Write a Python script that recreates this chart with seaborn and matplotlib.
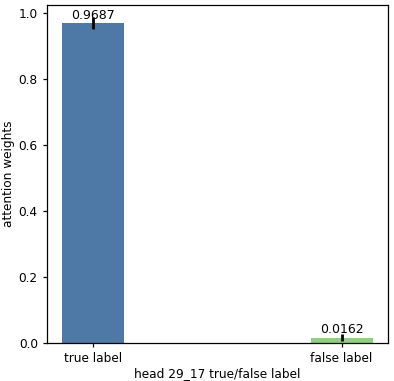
from matplotlib import pyplot as plt
import pandas as pd
import seaborn as sns

# values
labels = ["true label", "false label"]
weights = [0.9687, 0.0162]
errors = [0.018, 0.011]
colors = ["#4e79a7", "#8cd17d"]

plt.rcParams["font.size"] = 8.7
plt.rcParams["axes.linewidth"] = 0.9

df = pd.DataFrame({"label": labels, "weight": weights})

fig, ax = plt.subplots(figsize=(3.94, 3.81), dpi=100)
fig.subplots_adjust(left=0.119, right=0.985, bottom=0.1, top=0.987)

sns.barplot(data=df, x="label", y="weight", hue="label", palette=colors,
            width=0.25, saturation=1, errorbar=None, legend=False, ax=ax)
ax.errorbar(range(len(labels)), weights, yerr=errors, fmt="none",
            ecolor="black", elinewidth=2)

for i, v in enumerate(weights):
    ax.text(i, v + 0.004, "%.4f" % v, ha="center", va="bottom", fontsize=9)

ax.set_xlim(-0.1875, 1.1875)
ax.set_ylim(0, 1.024)
ax.tick_params(labelsize=8.7, length=3, width=0.9)
ax.set_xlabel("head 29_17 true/false label", fontsize=8.7, labelpad=1.5)
ax.set_ylabel("attention weights", fontsize=8.7, labelpad=3)

plt.savefig("out.png")
